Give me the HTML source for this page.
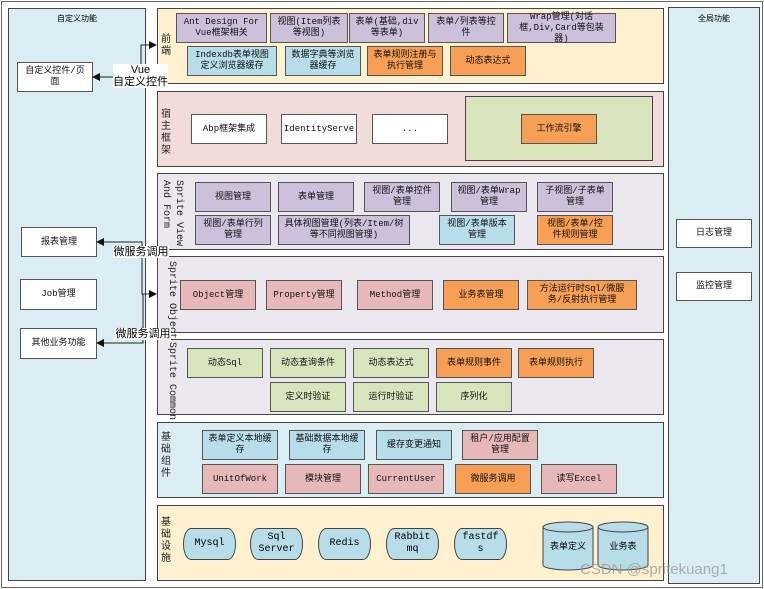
<!DOCTYPE html>
<html><head><meta charset="utf-8"><style>
body{margin:0;width:764px;height:589px;background:#fff;position:relative;overflow:hidden;font-family:"Liberation Mono","Noto Sans CJK SC",monospace;}
div{box-sizing:border-box;position:absolute;}
.p{border:1px solid #444;}
.b{border:1px solid #555;display:flex;align-items:center;justify-content:center;text-align:center;font-size:9px;line-height:11px;color:#111;padding:0 5px;}
.pu{background:#ccc0da}.bl{background:#b7dde8}.or{background:#f79f55}.pk{background:#e6b9b8}.gr{background:#d7e4bc}.wh{background:#fff}
.v{font-size:10px;line-height:12px;width:12px;text-align:center;color:#222;}
.vr{writing-mode:vertical-rl;font-size:10px;line-height:13px;color:#222;}
.cyl{background:#b7dde8;border:1px solid #444;border-radius:8px/16px;display:flex;align-items:center;justify-content:center;text-align:center;font-size:10px;line-height:12px;}
.lbl{background:#fff;font-family:"Liberation Sans","Noto Sans CJK SC",sans-serif;font-size:11px;line-height:12px;text-align:center;white-space:nowrap;}
</style></head><body>
<div class="p" style="left:1px;top:1px;width:762px;height:587px;border-color:#666"></div>
<div class="p" style="left:8px;top:8px;width:138px;height:573px;background:#daedf2"></div>
<div style="left:8px;top:13px;width:138px;text-align:center;font-size:8px;">自定义功能</div>
<div class="p" style="left:668px;top:7px;width:92px;height:577px;background:#daedf2"></div>
<div style="left:668px;top:13px;width:92px;text-align:center;font-size:8px;">全局功能</div>
<div class="b wh" style="left:17px;top:62px;width:76px;height:30px">自定义控件/页面</div>
<div class="b wh" style="left:21px;top:227px;width:76px;height:30px">报表管理</div>
<div class="b wh" style="left:20px;top:279px;width:77px;height:31px">Job管理</div>
<div class="b wh" style="left:20px;top:328px;width:77px;height:31px">其他业务功能</div>
<div class="b wh" style="left:676px;top:219px;width:76px;height:29px">日志管理</div>
<div class="b wh" style="left:676px;top:272px;width:76px;height:29px">监控管理</div>

<div class="p" style="left:157px;top:8px;width:507px;height:76px;background:#fdf1d0"></div>
<div class="p" style="left:157px;top:91px;width:507px;height:76px;background:#f2dcdb"></div>
<div class="p" style="left:157px;top:173px;width:507px;height:77px;background:#ebe7ef"></div>
<div class="p" style="left:157px;top:256px;width:507px;height:77px;background:#ebe7ef"></div>
<div class="p" style="left:157px;top:339px;width:507px;height:76px;background:#ebe7ef"></div>
<div class="p" style="left:157px;top:422px;width:507px;height:76px;background:#daedf2"></div>
<div class="p" style="left:157px;top:505px;width:507px;height:76px;background:#fdf1d0"></div>

<div class="v" style="left:160px;top:35px">前<br>端</div>
<div class="v" style="left:160px;top:110px">宿<br>主<br>框<br>架</div>
<div class="vr" style="left:159px;top:180px">Sprite View<br>And Form</div>
<div class="vr" style="left:165px;top:261px">Sprite Object</div>
<div class="vr" style="left:165px;top:342px">Sprite Common</div>
<div class="v" style="left:160px;top:433px">基<br>础<br>组<br>件</div>
<div class="v" style="left:160px;top:518px">基<br>础<br>设<br>施</div>

<div class="b pu" style="left:176px;top:13px;width:91px;height:30px">Ant Design For Vue框架相关</div>
<div class="b pu" style="left:270px;top:13px;width:78px;height:30px">视图(Item列表等视图)</div>
<div class="b pu" style="left:349px;top:13px;width:76px;height:30px">表单(基础,div等表单)</div>
<div class="b pu" style="left:428px;top:13px;width:76px;height:30px">表单/列表等控件</div>
<div class="b pu" style="left:507px;top:13px;width:109px;height:30px">Wrap管理(对话框,Div,Card等包装器)</div>
<div class="b bl" style="left:187px;top:46px;width:90px;height:30px">Indexdb表单视图定义浏览器缓存</div>
<div class="b bl" style="left:285px;top:46px;width:76px;height:30px">数据字典等浏览器缓存</div>
<div class="b or" style="left:367px;top:46px;width:76px;height:30px">表单规则注册与执行管理</div>
<div class="b or" style="left:450px;top:46px;width:76px;height:30px">动态表达式</div>

<div class="b wh" style="left:191px;top:114px;width:76px;height:30px">Abp框架集成</div>
<div class="b wh" style="left:281px;top:114px;width:76px;height:30px">IdentityServe</div>
<div class="b wh" style="left:372px;top:114px;width:76px;height:30px">...</div>
<div class="p" style="left:465px;top:96px;width:188px;height:65px;background:#d7e4bc"></div>
<div class="b or" style="left:521px;top:114px;width:76px;height:30px">工作流引擎</div>

<div class="b pu" style="left:195px;top:182px;width:76px;height:30px">视图管理</div>
<div class="b pu" style="left:278px;top:182px;width:76px;height:30px">表单管理</div>
<div class="b pu" style="left:364px;top:182px;width:76px;height:30px">视图/表单控件管理</div>
<div class="b pu" style="left:451px;top:182px;width:76px;height:30px">视图/表单Wrap管理</div>
<div class="b pu" style="left:537px;top:182px;width:76px;height:30px">子视图/子表单管理</div>
<div class="b pu" style="left:195px;top:215px;width:76px;height:30px">视图/表单行列管理</div>
<div class="b pu" style="left:278px;top:215px;width:132px;height:30px">具体视图管理(列表/Item/树等不同视图管理)</div>
<div class="b bl" style="left:439px;top:215px;width:76px;height:30px">视图/表单版本管理</div>
<div class="b or" style="left:537px;top:215px;width:76px;height:30px">视图/表单/控件规则管理</div>

<div class="b pk" style="left:180px;top:280px;width:76px;height:30px">Object管理</div>
<div class="b pk" style="left:266px;top:280px;width:76px;height:30px">Property管理</div>
<div class="b pk" style="left:357px;top:280px;width:76px;height:30px">Method管理</div>
<div class="b or" style="left:443px;top:280px;width:76px;height:30px">业务表管理</div>
<div class="b or" style="left:527px;top:280px;width:110px;height:30px">方法运行时Sql/微服务/反射执行管理</div>

<div class="b gr" style="left:187px;top:348px;width:76px;height:30px">动态Sql</div>
<div class="b gr" style="left:270px;top:348px;width:76px;height:30px">动态查询条件</div>
<div class="b gr" style="left:353px;top:348px;width:76px;height:30px">动态表达式</div>
<div class="b or" style="left:436px;top:348px;width:76px;height:30px">表单规则事件</div>
<div class="b or" style="left:518px;top:348px;width:76px;height:30px">表单规则执行</div>
<div class="b gr" style="left:270px;top:382px;width:76px;height:30px">定义时验证</div>
<div class="b gr" style="left:353px;top:382px;width:76px;height:30px">运行时验证</div>
<div class="b gr" style="left:436px;top:382px;width:76px;height:30px">序列化</div>

<div class="b bl" style="left:202px;top:430px;width:76px;height:30px">表单定义本地缓存</div>
<div class="b bl" style="left:289px;top:430px;width:76px;height:30px">基础数据本地缓存</div>
<div class="b bl" style="left:376px;top:430px;width:76px;height:30px">缓存变更通知</div>
<div class="b pk" style="left:462px;top:430px;width:76px;height:30px">租户/应用配置管理</div>
<div class="b pk" style="left:202px;top:464px;width:76px;height:30px">UnitOfWork</div>
<div class="b pk" style="left:285px;top:464px;width:76px;height:30px">模块管理</div>
<div class="b pk" style="left:368px;top:464px;width:76px;height:30px">CurrentUser</div>
<div class="b or" style="left:455px;top:464px;width:76px;height:30px">微服务调用</div>
<div class="b pk" style="left:541px;top:464px;width:76px;height:30px">读写Excel</div>

<div class="cyl" style="left:183px;top:528px;width:53px;height:32px">Mysql</div>
<div class="cyl" style="left:250px;top:528px;width:53px;height:32px">Sql<br>Server</div>
<div class="cyl" style="left:318px;top:528px;width:53px;height:32px">Redis</div>
<div class="cyl" style="left:386px;top:528px;width:53px;height:32px">Rabbit<br>mq</div>
<div class="cyl" style="left:454px;top:528px;width:53px;height:32px">fastdf<br>s</div>
<svg style="position:absolute;left:0;top:0" width="764" height="589">
<g fill="#b7dde8" stroke="#444">
<path d="M543 527 v38 a25 5 0 0 0 50 0 v-38"/><ellipse cx="568" cy="527" rx="25" ry="5"/>
<path d="M598 527 v38 a25 5 0 0 0 50 0 v-38"/><ellipse cx="623" cy="527" rx="25" ry="5"/>
</g>
<g font-size="9" text-anchor="middle" font-family="Noto Sans CJK SC,sans-serif"><text x="568" y="549">表单定义</text><text x="623" y="549">业务表</text></g>
<g stroke="#222" fill="none" stroke-width="1">
<polyline points="150,45 141,45 141,84 167,84"/>
<line x1="141" y1="77" x2="100" y2="77"/>
<polyline points="100,242 142,242 142,294 150,294"/>
<polyline points="100,343 143,343 143,294"/>
</g>
<g fill="#111"><path d="M157 45 l-8 -4 v8z"/><path d="M92 77 l8 -4 v8z"/><path d="M96 242 l8 -4 v8z"/><path d="M157 294 l-8 -4 v8z"/><path d="M96 343 l8 -4 v8z"/></g>
</svg>
<div class="lbl" style="left:113px;top:64px;width:55px">Vue<br>自定义控件</div>
<div class="lbl" style="left:113px;top:246px;width:56px">微服务调用</div>
<div class="lbl" style="left:115px;top:328px;width:56px">微服务调用</div>
<div style="left:580px;top:561px;font-family:'Liberation Sans',sans-serif;font-size:15px;color:rgba(150,150,150,.75)">CSDN @spritekuang1</div>
</body></html>
